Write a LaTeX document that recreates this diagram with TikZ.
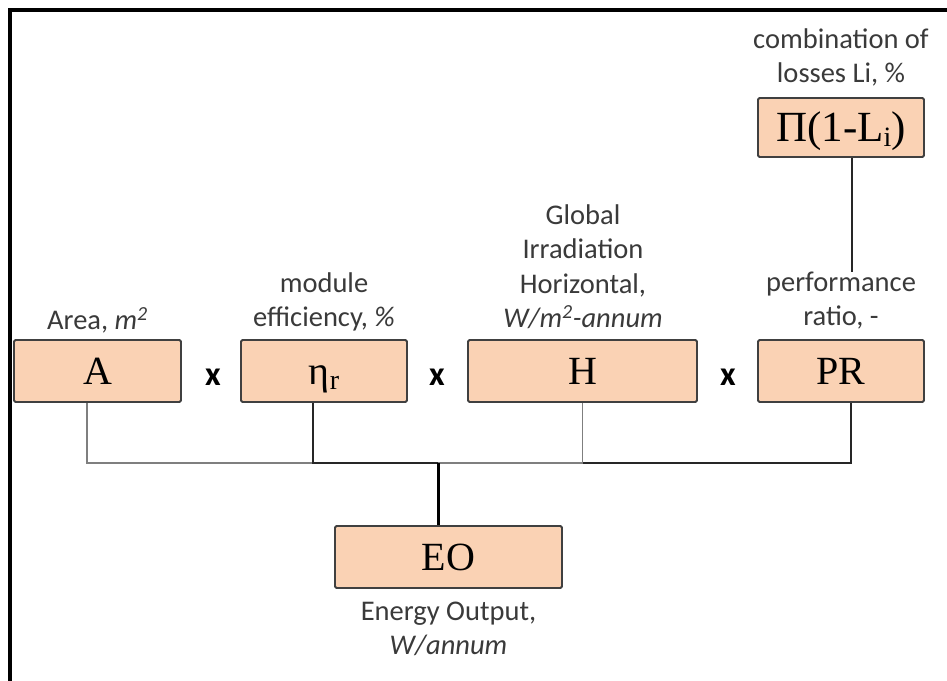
\documentclass[tikz,border=0pt]{standalone}
\usepackage{fontspec}
\setmainfont{Carlito}
\newfontfamily\boxfont{Liberation Serif}
\definecolor{peach}{HTML}{FAD2B4}
\definecolor{txt}{HTML}{3A3A3A}
\definecolor{boxline}{HTML}{404040}
\definecolor{lightline}{HTML}{7F7F7F}
\definecolor{darkline}{HTML}{262626}
\newcommand{\lowsub}[1]{\raisebox{-0.12em}{\fontsize{28}{28}\selectfont #1}}
\begin{document}
\begin{tikzpicture}[x=1pt,y=-1pt,
  box/.style={draw=boxline, line width=1.8pt, fill=peach, rounded corners=1.5pt,
    inner sep=0pt, minimum height=62pt, text height=27pt, text depth=0pt,
    font=\boxfont\fontsize{40}{40}\selectfont, text=black},
  lbl/.style={anchor=south, inner sep=0pt, text depth=0pt, align=center,
    text=txt, font=\fontsize{28.5}{34.5}\selectfont},
  timessign/.style={inner sep=0pt, anchor=base, font=\bfseries\fontsize{34}{34}\selectfont, text=black},
  lightconn/.style={draw=lightline, line width=1.5pt},
  darkconn/.style={draw=darkline, line width=2pt},
  mainconn/.style={draw=black, line width=3pt}]
\useasboundingbox (0,0) rectangle (947,680);
\fill[white] (0,0) rectangle (947,680);
\draw[line width=4pt] (950,10) -- (10,10) -- (10,690);

% boxes
\node[box, minimum width=167pt] (A) at (97.5,371) {A};
\node[box, minimum width=166pt] (eta) at (324,371) {η\lowsub{r}};
\node[box, minimum width=229pt] (H) at (582.5,371) {H};
\node[box, minimum width=166pt] (PR) at (841,371) {PR};
\node[box, minimum width=166pt, minimum height=59pt, font=\boxfont\fontsize{43}{43}\selectfont] (L) at (841,127.5) {Π(1-L\lowsub{i})};
\node[box, minimum width=227pt] (EO) at (448.5,557) {EO};

% multiplication signs
\node[timessign] (x1) at (213,385) {x};
\node[timessign] (x2) at (437,385) {x};
\node[timessign] (x3) at (728,385) {x};

% labels
\node[lbl] (lA) at (97.5,330) {Area, \textit{m\textsuperscript{2}}};
\node[lbl] (leta) at (324,327) {module\\efficiency, \textit{\%}};
\node[lbl] (lH) at (583,328) {Global\\Irradiation\\Horizontal,\\\textit{W/m\textsuperscript{2}-annum}};
\node[lbl] (lPR) at (841,326) {performance\\ratio, -};
\node[lbl] (lL) at (841,83) {combination of\\losses Li, \%};
\node[lbl] (lEO) at (448.5,655) {Energy Output,\\\textit{W/annum}};

% connectors
\coordinate (bus) at (438,463);
\draw[darkconn] ([xshift=10pt]PR.south) |- (bus);
\draw[lightconn] (H.south) |- (bus);
\draw[lightconn] ([xshift=-10.5pt]A.south) |- (bus);
\draw[darkconn] ([xshift=-11pt]eta.south) |- (bus);
\draw[mainconn] (bus) -- (EO.north -| bus);
\coordinate (Lb) at ([xshift=11pt]L.south);
\draw[darkconn] (Lb) -- (Lb |- lPR.north);
\end{tikzpicture}
\end{document}
